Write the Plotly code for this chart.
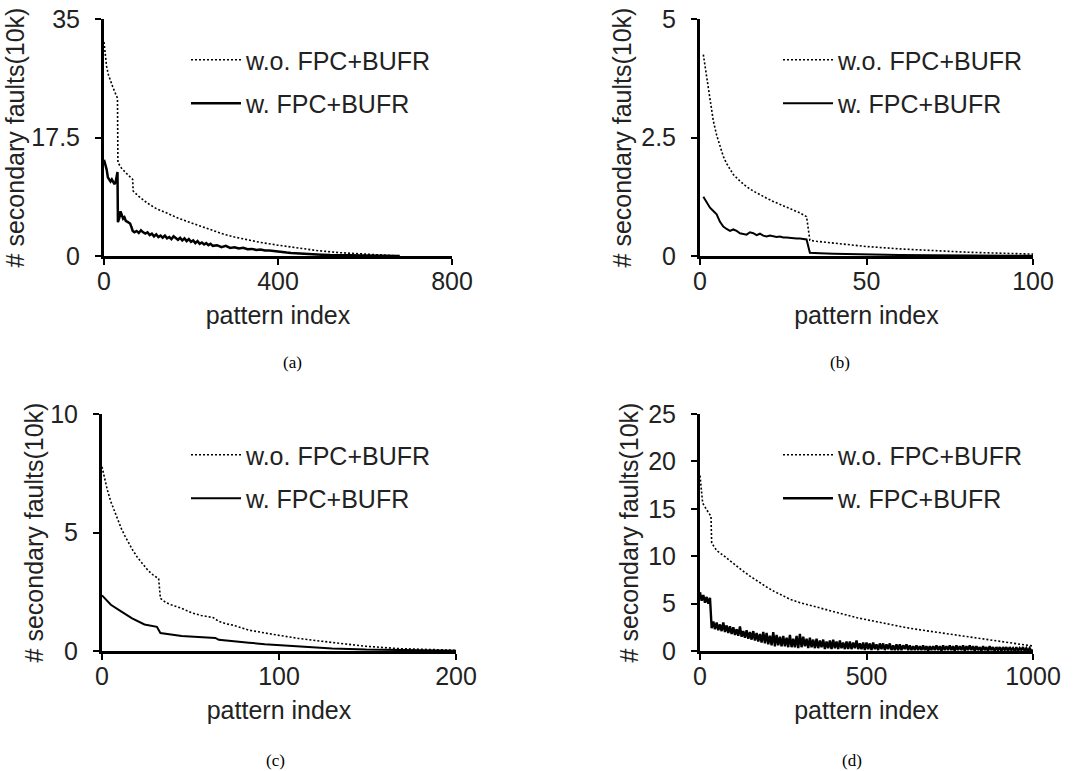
import plotly.graph_objects as go

# ---------------- data ----------------
# (a)
a_wo_x = [0, 1, 3, 6, 10, 15, 20, 25, 31, 32, 40, 50, 60, 66, 67, 80, 100, 120, 146, 170, 200, 222, 250, 276,
          300, 330, 360, 400, 440, 490, 540, 605, 640, 660, 680]
a_wo_y = [31.6, 31.0, 29.5, 28.0, 26.8, 25.8, 25.0, 24.2, 23.3, 13.8, 13.0, 12.3, 11.7, 11.3, 9.6, 8.8, 7.8, 7.0,
          6.3, 5.6, 4.9, 4.4, 3.7, 3.2, 2.8, 2.4, 2.0, 1.6, 1.2, 0.8, 0.5, 0.3, 0.15, 0.05, 0.0]
a_w_x = [0, 3, 6, 9, 12, 15, 18, 21, 24, 27, 30, 31, 32, 35, 38, 41, 44, 47, 50, 55, 60, 63, 66, 70, 75, 80, 85,
         90, 95, 100, 105, 110, 115, 120, 125, 130, 135, 140, 145, 150, 155, 160, 165, 170, 175, 180, 185, 190,
         195, 200, 205, 210, 215, 220, 225, 230, 235, 240, 245, 250, 260, 270, 280, 290, 300, 310, 320, 330,
         340, 350, 360, 370, 380, 390, 400, 410, 420, 430, 440, 450, 460, 480, 500, 520, 540, 560, 580, 600,
         620, 640, 660, 680]
a_w_y = [14.2, 13.5, 12.8, 11.6, 11.2, 11.0, 11.3, 10.9, 10.6, 11.0, 11.8, 12.4, 5.0, 5.6, 6.6, 5.9, 5.5, 5.7,
         5.2, 5.0, 4.8, 4.3, 3.7, 3.5, 3.7, 3.4, 3.8, 3.5, 3.3, 3.5, 3.1, 3.3, 2.9, 3.2, 2.8, 3.0, 2.7, 3.0, 2.6,
         2.8, 2.5, 2.9, 2.6, 2.4, 2.7, 2.3, 2.6, 2.2, 2.5, 2.1, 2.3, 1.9, 2.2, 1.8, 2.0, 1.7, 1.9, 1.6, 1.8, 1.5,
         1.6, 1.3, 1.5, 1.2, 1.3, 1.1, 1.2, 1.0, 1.05, 0.9, 0.95, 0.8, 0.8, 0.7, 0.65, 0.55, 0.5, 0.45, 0.4, 0.35,
         0.3, 0.25, 0.2, 0.15, 0.12, 0.1, 0.08, 0.06, 0.04, 0.03, 0.02, 0.01]

# (b)
b_wo_x = [1, 2, 3, 4, 5, 6, 7, 8, 9, 10, 12, 14, 16, 18, 20, 22, 24, 26, 28, 30, 32, 33, 35, 40, 45, 50, 60, 70,
          80, 90, 100]
b_wo_y = [4.25, 3.75, 3.3, 2.85, 2.55, 2.3, 2.1, 1.95, 1.83, 1.72, 1.58, 1.46, 1.37, 1.29, 1.22, 1.15, 1.09,
          1.03, 0.97, 0.91, 0.83, 0.33, 0.31, 0.27, 0.23, 0.2, 0.15, 0.11, 0.08, 0.06, 0.04]
b_w_x = [1, 2, 3, 4, 5, 6, 7, 8, 9, 10, 11, 12, 13, 14, 15, 16, 17, 18, 19, 20, 21, 22, 23, 24, 25, 26, 27, 28,
         29, 30, 31, 32, 33, 34, 36, 40, 50, 60, 70, 80, 90, 100]
b_w_y = [1.25, 1.12, 1.02, 0.95, 0.88, 0.72, 0.62, 0.57, 0.53, 0.56, 0.53, 0.48, 0.46, 0.45, 0.5, 0.48, 0.44,
         0.47, 0.43, 0.41, 0.43, 0.42, 0.4, 0.41, 0.39, 0.39, 0.38, 0.38, 0.37, 0.37, 0.36, 0.35, 0.07, 0.07,
         0.06, 0.05, 0.03, 0.02, 0.015, 0.01, 0.005, 0.003]

# (c)
c_wo_x = [0, 2, 3, 5, 7, 9, 11, 13, 15, 17, 20, 23, 26, 29, 32, 33, 36, 39, 45, 51, 56, 62, 63, 66, 70, 74, 83,
          96, 111, 130, 149, 168, 187, 200]
c_wo_y = [7.77, 7.1, 6.8, 6.3, 5.9, 5.5, 5.15, 4.85, 4.55, 4.3, 3.95, 3.65, 3.4, 3.2, 3.05, 2.22, 2.05, 1.95,
          1.8, 1.6, 1.5, 1.42, 1.4, 1.25, 1.15, 1.09, 0.88, 0.71, 0.53, 0.36, 0.2, 0.1, 0.06, 0.03]
c_w_x = [0, 5, 11, 17, 24, 31, 33, 40, 45, 52, 60, 64, 66, 74, 83, 92, 100, 111, 120, 130, 149, 168, 185, 200]
c_w_y = [2.35, 1.95, 1.66, 1.38, 1.12, 1.02, 0.76, 0.68, 0.63, 0.6, 0.57, 0.55, 0.47, 0.4, 0.35, 0.29, 0.25,
         0.19, 0.15, 0.11, 0.06, 0.03, 0.02, 0.01]

# (d)
d_wo_x = [0, 3, 8, 20, 33, 35, 50, 73, 100, 123, 150, 172, 200, 222, 250, 272, 300, 322, 350, 372, 400, 422,
          450, 472, 521, 571, 621, 671, 721, 770, 820, 870, 920, 960, 1000]
d_wo_y = [18.5, 17.0, 15.6, 14.9, 14.2, 11.4, 10.6, 10.0, 9.2, 8.6, 7.9, 7.36, 6.75, 6.3, 5.8, 5.43, 5.1, 4.9,
          4.65, 4.45, 4.15, 3.93, 3.7, 3.5, 3.16, 2.8, 2.45, 2.18, 1.93, 1.66, 1.4, 1.18, 0.95, 0.75, 0.52]
d_w_x = list(range(0, 1001, 5))
d_w_y = [6.2, 5.3, 5.9, 5.1, 5.7, 5.0, 5.6, 2.4, 3.1, 2.3,
         3.0, 2.2, 2.8, 2.1, 3.0, 2.0, 2.7, 1.9, 2.6, 1.8,
         2.5, 1.7, 2.3, 1.6, 2.6, 1.5, 2.1, 1.4, 2.2, 1.3,
         2.0, 1.2, 2.1, 1.1, 1.9, 1.0, 1.8, 0.9, 2.0, 0.8,
         1.9, 0.7, 1.6, 0.6, 2.0, 0.5, 1.7, 0.6, 1.5, 0.5,
         1.6, 0.5, 1.4, 0.4, 1.7, 0.4, 1.3, 0.4, 1.6, 0.3,
         1.8, 0.4, 1.5, 0.5, 1.3, 0.3, 1.4, 0.4, 1.2, 0.3,
         1.3, 0.3, 1.1, 0.4, 1.2, 0.2, 1.0, 0.3, 1.1, 0.2,
         1.2, 0.3, 1.0, 0.2, 1.1, 0.3, 0.9, 0.2, 1.0, 0.2,
         1.0, 0.2, 0.9, 0.3, 1.1, 0.2, 0.8, 0.2, 0.9, 0.1,
         0.9, 0.2, 0.8, 0.1, 0.9, 0.2, 0.7, 0.1, 0.8, 0.2,
         0.8, 0.1, 0.7, 0.2, 0.8, 0.1, 0.6, 0.1, 0.7, 0.1,
         0.7, 0.1, 0.6, 0.2, 0.7, 0.1, 0.6, 0.1, 0.5, 0.1,
         0.6, 0.1, 0.5, 0.1, 0.6, 0.1, 0.5, 0.0, 0.5, 0.1,
         0.5, 0.1, 0.6, 0.1, 0.5, 0.0, 0.6, 0.1, 0.5, 0.1,
         0.6, 0.1, 0.5, 0.0, 0.6, 0.1, 0.5, 0.1, 0.6, 0.0,
         0.5, 0.1, 0.6, 0.1, 0.5, 0.0, 0.5, 0.1, 0.4, 0.0,
         0.5, 0.1, 0.4, 0.0, 0.5, 0.1, 0.4, 0.0, 0.4, 0.1,
         0.4, 0.0, 0.4, 0.1, 0.4, 0.0, 0.4, 0.1, 0.3, 0.0,
         0.4, 0.0, 0.3, 0.1, 0.4, 0.0, 0.3, 0.0, 0.3, 0.0,
         0.1]

x_ticks = [[0, 400, 800], [0, 50, 100], [0, 100, 200], [0, 500, 1000]]
y_ticks = [[0, 17.5, 35], [0, 2.5, 5], [0, 5, 10], [0, 5, 10, 15, 20, 25]]
captions = ["(a)", "(b)", "(c)", "(d)"]
series_names = ["w.o. FPC+BUFR", "w. FPC+BUFR"]

panels = [
    (a_wo_x, a_wo_y, a_w_x, a_w_y),
    (b_wo_x, b_wo_y, b_w_x, b_w_y),
    (c_wo_x, c_wo_y, c_w_x, c_w_y),
    (d_wo_x, d_wo_y, d_w_x, d_w_y),
]

# ---------------- layout geometry (screen pixels; page body margin removed) ----------------
W, H = 1086, 771
FONT = "Liberation Sans, Arial, sans-serif"
TXT = "#222222"
FS = 25

def px_x(p):
    return p / W

def px_y(p):
    return 1 - p / H

x_dom = [(104, 452), (700, 1033), (102, 456), (700, 1033)]
y_dom = [(19, 256), (19, 256), (414, 651), (414, 651)]
legend_pos = [(186, 37), (778, 37), (186, 432), (778, 432)]
caption_pos = [(292, 362), (840, 362), (275, 760), (852, 760)]
solid_width = [2.5, 2, 2, 2.4]
ytitle_standoff = [0, 3, 0, 3]

fig = go.Figure()
layout = dict(
    width=W, height=H, margin=dict(l=0, r=0, t=0, b=0, autoexpand=False),
    paper_bgcolor="white", plot_bgcolor="white",
    font=dict(family=FONT, size=FS, color=TXT),
    annotations=[],
)

for i, (wx, wy, sx, sy) in enumerate(panels):
    n = "" if i == 0 else str(i + 1)
    leg = "legend" if i == 0 else f"legend{i + 1}"
    fig.add_trace(go.Scatter(
        x=wx, y=wy, mode="lines", name=series_names[0],
        line=dict(color="black", width=1.6, dash="2px,2px"),
        xaxis="x" + n, yaxis="y" + n, legend=leg, legendgroup=f"g{i}a",
    ))
    fig.add_trace(go.Scatter(
        x=sx, y=sy, mode="lines", name=series_names[1],
        line=dict(color="black", width=solid_width[i]),
        xaxis="x" + n, yaxis="y" + n, legend=leg, legendgroup=f"g{i}b",
    ))
    axis_common = dict(
        showgrid=False, zeroline=False, showline=True, linecolor="black", linewidth=3,
        ticks="outside", ticklen=6, tickwidth=2, tickcolor="black", automargin=False,
        ticklabeloverflow="allow",
        tickfont=dict(family=FONT, size=FS, color=TXT),
    )
    layout["xaxis" + n] = dict(
        axis_common, domain=[px_x(x_dom[i][0]), px_x(x_dom[i][1])],
        range=[0, x_ticks[i][-1]], tickvals=x_ticks[i], anchor="y" + n,
        title=dict(text="pattern index", font=dict(family=FONT, size=FS, color=TXT), standoff=13),
        ticklabelstandoff=-5,
    )
    layout["yaxis" + n] = dict(
        axis_common, domain=[px_y(y_dom[i][1]), px_y(y_dom[i][0])],
        range=[0, y_ticks[i][-1]], tickvals=y_ticks[i], anchor="x" + n,
        title=dict(text="# secondary faults(10k)", font=dict(family=FONT, size=FS, color=TXT),
                   standoff=ytitle_standoff[i]),
        ticklabelstandoff=10,
    )
    layout[leg] = dict(
        x=px_x(legend_pos[i][0]), y=px_y(legend_pos[i][1]), xanchor="left", yanchor="top",
        bgcolor="rgba(0,0,0,0)", borderwidth=0, tracegroupgap=8, itemwidth=50,
        font=dict(family=FONT, size=FS, color=TXT),
    )
    layout["annotations"].append(dict(
        text=captions[i], x=px_x(caption_pos[i][0]), y=px_y(caption_pos[i][1]),
        xref="paper", yref="paper", showarrow=False, xanchor="center", yanchor="middle",
        font=dict(family="Liberation Serif, Times New Roman, serif", size=17, color="black"),
    ))

fig.update_layout(**layout)
fig.write_html(
    "out.html",
    config={"displayModeBar": False},
    post_script="document.body.style.margin='0';document.body.style.overflow='hidden';",
)
